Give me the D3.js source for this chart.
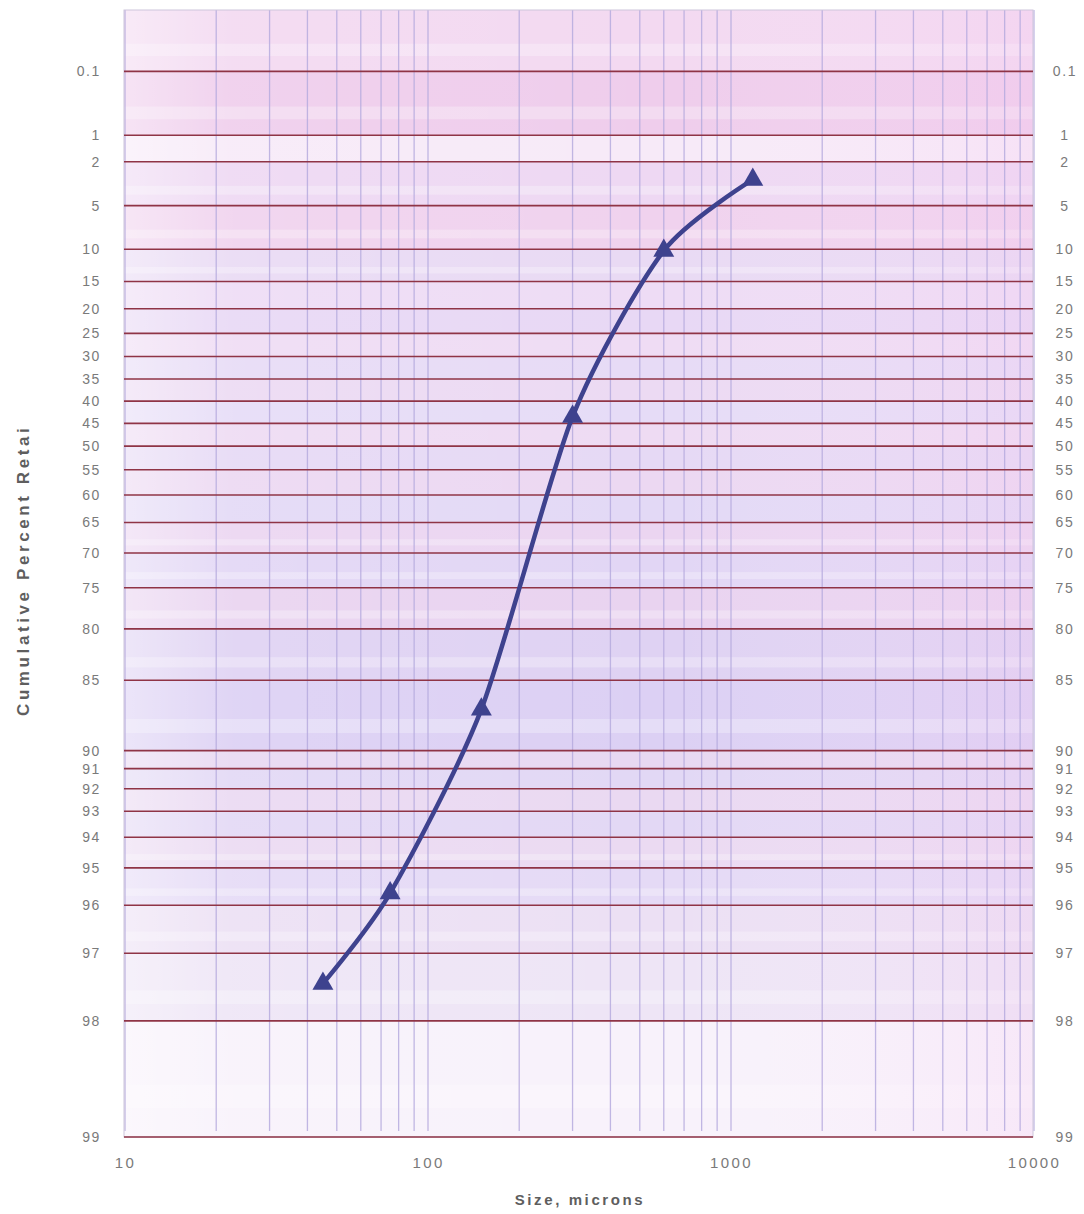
<!DOCTYPE html>
<html>
<head>
<meta charset="utf-8">
<script src="https://cdn.jsdelivr.net/npm/d3@7"></script>
<style>
  html, body { margin: 0; padding: 0; background: #ffffff; }
  svg { display: block; }
  text { font-family: "Liberation Sans", Arial, sans-serif; }
</style>
</head>
<body>
<script>
// ---------------- DATA ----------------
const sizes = [1180, 600, 300, 150, 75, 45];              // microns
const cumRetained = [3.0, 10.2, 43.5, 87.3, 95.7, 97.5];  // cumulative percent retained
const yTickValues = [0.1, 1, 2, 5, 10, 15, 20, 25, 30, 35, 40, 45, 50, 55, 60, 65, 70, 75, 80, 85, 90, 91, 92, 93, 94, 95, 96, 97, 98, 99];
const xTickValues = [10, 100, 1000, 10000];
const xTitle = "Size, microns";
const yTitle = "Cumulative Percent Retained";

// ---------------- LAYOUT ----------------
const W = 1084, H = 1214;
const plot = { left: 124, right: 1033, top: 10, bottom: 1137 };

// inverse standard normal (Acklam)
function qnorm(p) {
  const a = [-3.969683028665376e+01, 2.209460984245205e+02, -2.759285104469687e+02, 1.383577518672690e+02, -3.066479806614716e+01, 2.506628277459239e+00];
  const b = [-5.447609879822406e+01, 1.615858368580409e+02, -1.556989798598866e+02, 6.680131188771972e+01, -1.328068155288572e+01];
  const c = [-7.784894002430293e-03, -3.223964580411365e-01, -2.400758277161838e+00, -2.549671348283440e+00, 4.374664141464968e+00, 2.938163982698783e+00];
  const d = [7.784695709041462e-03, 3.224671290700398e-01, 2.445134137142996e+00, 3.754408661907416e+00];
  const pl = 0.02425, ph = 1 - pl;
  let q, r;
  if (p < pl) {
    q = Math.sqrt(-2 * Math.log(p));
    return (((((c[0]*q+c[1])*q+c[2])*q+c[3])*q+c[4])*q+c[5]) / ((((d[0]*q+d[1])*q+d[2])*q+d[3])*q+1);
  } else if (p <= ph) {
    q = p - 0.5; r = q*q;
    return (((((a[0]*r+a[1])*r+a[2])*r+a[3])*r+a[4])*r+a[5])*q / (((((b[0]*r+b[1])*r+b[2])*r+b[3])*r+b[4])*r+1);
  } else {
    q = Math.sqrt(-2 * Math.log(1 - p));
    return -(((((c[0]*q+c[1])*q+c[2])*q+c[3])*q+c[4])*q+c[5]) / ((((d[0]*q+d[1])*q+d[2])*q+d[3])*q+1);
  }
}
// paper transform of this (non-standard) probability grid
const aL = 0.292, aR = 0.383;
function paperZ(z) { return z < 0 ? (Math.exp(aL*z) - 1) / aL : (Math.exp(aR*z) - 1) / aR; }
function paper(pct) { return paperZ(qnorm(pct / 100)); }
const zTop = -4.03;

const x = d3.scaleLog().domain([10, 10000]).range([plot.left + 1, plot.right + 1]);
const yLin = d3.scaleLinear().domain([paperZ(zTop), paper(99)]).range([plot.top, plot.bottom]);
const y = pct => yLin(paper(pct));

const svg = d3.select("body").append("svg").attr("width", W).attr("height", H);

// ---------------- BACKGROUND ----------------
const defs = svg.append("defs");
const grad = defs.append("linearGradient").attr("id", "lr").attr("x1", 0).attr("x2", 1).attr("y1", 0).attr("y2", 0);
grad.append("stop").attr("offset", "0%").attr("stop-color", "#ffffff").attr("stop-opacity", 0.45);
grad.append("stop").attr("offset", "12%").attr("stop-color", "#ffffff").attr("stop-opacity", 0.1);
grad.append("stop").attr("offset", "60%").attr("stop-color", "#ffffff").attr("stop-opacity", 0.0);
grad.append("stop").attr("offset", "100%").attr("stop-color", "#f6c8f0").attr("stop-opacity", 0.25);

const bandEdges = [plot.top].concat(yTickValues.map(y));
const bandColors = ["#f3d9f1", "#efcdec", "#f7eaf8", "#eed8f3", "#f0d2ee", "#e9daf4", "#eedcf5",
  "#e8d8f5", "#efdcf4", "#e7dbf6", "#ecdaf3", "#e6dcf7", "#eedbf3", "#e6d9f5", "#ecd8f2",
  "#e3d9f6", "#ebd5f1", "#e2d6f5", "#e9d3f0", "#dfd2f3", "#dcd0f4", "#e8d8f2", "#e2d8f5",
  "#ead9f2", "#e3d8f5", "#ebdaf2", "#e5daf6", "#ece0f4", "#eee5f6", "#f8f2fb"];
const gBg = svg.append("g");
for (let i = 0; i < bandEdges.length - 1; i++) {
  const y0 = bandEdges[i], y1 = bandEdges[i + 1];
  gBg.append("rect").attr("x", plot.left).attr("y", y0).attr("width", plot.right - plot.left)
    .attr("height", y1 - y0).attr("fill", bandColors[i % bandColors.length]);
  if (y1 - y0 > 30) {
    gBg.append("rect").attr("x", plot.left).attr("y", y0 + (y1 - y0) * 0.55).attr("width", plot.right - plot.left)
      .attr("height", (y1 - y0) * 0.2).attr("fill", "#ffffff").attr("opacity", 0.28);
  }
}
gBg.append("rect").attr("x", plot.left).attr("y", plot.top).attr("width", plot.right - plot.left)
  .attr("height", plot.bottom - plot.top).attr("fill", "url(#lr)");

// ---------------- VERTICAL GRID ----------------
const minor = [];
for (let dec = 10; dec < 10000; dec *= 10) for (let k = 1; k <= 9; k++) minor.push(dec * k);
minor.push(10000);
svg.append("g").selectAll("line").data(minor).join("line")
  .attr("x1", d => x(d)).attr("x2", d => x(d))
  .attr("y1", plot.top).attr("y2", plot.bottom - 6)
  .attr("stroke", "#b7acdf").attr("stroke-width", 1.3).attr("opacity", 0.85);

// border
svg.append("rect").attr("x", plot.left).attr("y", plot.top).attr("width", plot.right - plot.left)
  .attr("height", plot.bottom - plot.top).attr("fill", "none").attr("stroke", "#cdc6dc").attr("stroke-width", 1);

// ---------------- HORIZONTAL GRID ----------------
svg.append("g").selectAll("line").data(yTickValues).join("line")
  .attr("x1", plot.left).attr("x2", plot.right)
  .attr("y1", d => y(d)).attr("y2", d => y(d))
  .attr("stroke", "#8f3446").attr("stroke-width", 1.6);

// ---------------- AXES ----------------
const fmt = d => String(d);
const leftLabels = svg.append("g");
leftLabels.selectAll("text").data(yTickValues).join("text")
  .attr("x", 101).attr("y", d => y(d)).attr("dy", "0.35em")
  .attr("text-anchor", "end").attr("font-size", 14).attr("letter-spacing", 1.6)
  .attr("fill", "#7a7a7a").text(fmt);
const rightLabels = svg.append("g");
rightLabels.selectAll("text").data(yTickValues).join("text")
  .attr("x", 1065).attr("y", d => y(d)).attr("dy", "0.35em")
  .attr("text-anchor", "middle").attr("font-size", 14).attr("letter-spacing", 1.6)
  .attr("fill", "#7a7a7a").text(fmt);

const xAxis = d3.axisBottom(x).tickValues(xTickValues).tickFormat(d3.format("d")).tickSize(0).tickPadding(20);
const gx = svg.append("g").attr("transform", `translate(0,${plot.bottom})`).call(xAxis);
gx.select(".domain").remove();
gx.selectAll("text").attr("font-size", 15).attr("letter-spacing", 2.4).attr("fill", "#7a7a7a")
  .attr("font-family", "Liberation Sans, Arial, sans-serif");

// titles
svg.append("text").attr("x", 580).attr("y", 1205).attr("text-anchor", "middle")
  .attr("font-size", 15).attr("font-weight", "bold").attr("letter-spacing", 2.6)
  .attr("fill", "#5e5e5e").text(xTitle);

defs.append("clipPath").attr("id", "ytclip").append("rect").attr("x", 0).attr("y", 428).attr("width", 60).attr("height", 400);
svg.append("g").attr("clip-path", "url(#ytclip)")
  .append("text").attr("transform", "translate(29,716) rotate(-90)")
  .attr("text-anchor", "start").attr("font-size", 17).attr("font-weight", "bold").attr("letter-spacing", 3.6)
  .attr("fill", "#5e5e5e").text(yTitle);

// ---------------- DATA LINE ----------------
const pts = sizes.map((s, i) => [x(s), y(cumRetained[i])]);
const line = d3.line().curve(d3.curveCardinal.tension(0.25));
svg.append("path").attr("d", line(pts)).attr("fill", "none")
  .attr("stroke", "#3e428e").attr("stroke-width", 4.5).attr("stroke-linejoin", "round");

const tri = d3.symbol().type(d3.symbolTriangle).size(190);
svg.append("g").selectAll("path").data(sizes).join("path")
  .attr("transform", (d, i) => `translate(${x(d)},${y(cumRetained[i])})`)
  .attr("d", tri).attr("fill", "#3e428e");
</script>
</body>
</html>
